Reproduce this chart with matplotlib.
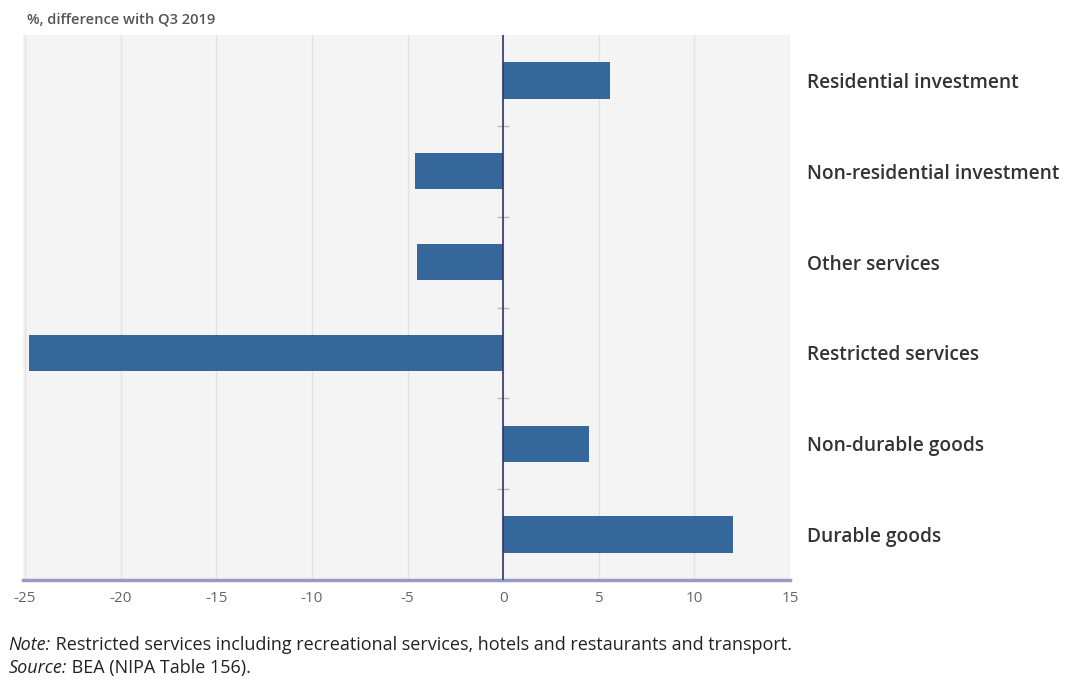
import numpy as np
import matplotlib
matplotlib.use("Agg")
import matplotlib.pyplot as plt

# data, top to bottom
categories = ["Residential investment", "Non-residential investment", "Other services",
              "Restricted services", "Non-durable goods", "Durable goods"]
values = [5.6, -4.6, -4.5, -24.8, 4.5, 12.0]
xticks = [-25, -20, -15, -10, -5, 0, 5, 10, 15]

plt.rcParams["font.family"] = ["Open Sans", "DejaVu Sans"]

fig = plt.figure(figsize=(10.72, 6.8), dpi=100)
ax = fig.add_axes([0.0215, 0.147, 0.7155, 0.8015])
ax.set_facecolor("#f4f4f4")

y = np.arange(len(categories))
ax.barh(y, values, height=0.4, color="#35679a", zorder=3)

ax.set_xlim(-25.1, 15)
ax.set_ylim(len(categories) - 0.5, -0.5)
ax.set_xticks(xticks)
ax.set_xticklabels([str(t) for t in xticks], color="#666666", fontsize=11)
ax.tick_params(axis="x", length=0, pad=8)
ax.grid(axis="x", color="#e2e2e2", linewidth=1, zorder=0)

ax.yaxis.tick_right()
ax.set_yticks(y)
ax.set_yticklabels(categories, fontsize=13.8, color="#333333", fontweight="semibold")
ax.tick_params(axis="y", length=0, pad=12)

for s in ["top", "left", "right"]:
    ax.spines[s].set_visible(False)
ax.spines["bottom"].set_color("#9a9ac8")
ax.spines["bottom"].set_linewidth(2.5)

# zero line and small category separators
ax.axvline(0, color="#33336e", linewidth=1.2, zorder=4)
bounds = y[:-1] + 0.5
ax.plot(np.zeros(len(bounds)), bounds, linestyle="none", marker="_",
        markersize=8, color="#bbbbbb", zorder=3.5)

fig.text(0.025, 0.972, "%, difference with Q3 2019", fontsize=10.5,
         color="#555555", fontweight="semibold", va="center")

# notes with italic prefixes
t1 = fig.text(0.008, 0.051, "Note:", fontsize=13, style="italic", color="#222222", va="center")
fig.canvas.draw()
x1 = t1.get_window_extent().x1 / fig.bbox.width
fig.text(x1, 0.051, " Restricted services including recreational services, hotels and restaurants and transport.",
         fontsize=13, color="#222222", va="center")
t2 = fig.text(0.008, 0.017, "Source:", fontsize=13, style="italic", color="#222222", va="center")
fig.canvas.draw()
x2 = t2.get_window_extent().x1 / fig.bbox.width
fig.text(x2, 0.017, " BEA (NIPA Table 156).", fontsize=13, color="#222222", va="center")

fig.savefig("out.png", dpi=100)
